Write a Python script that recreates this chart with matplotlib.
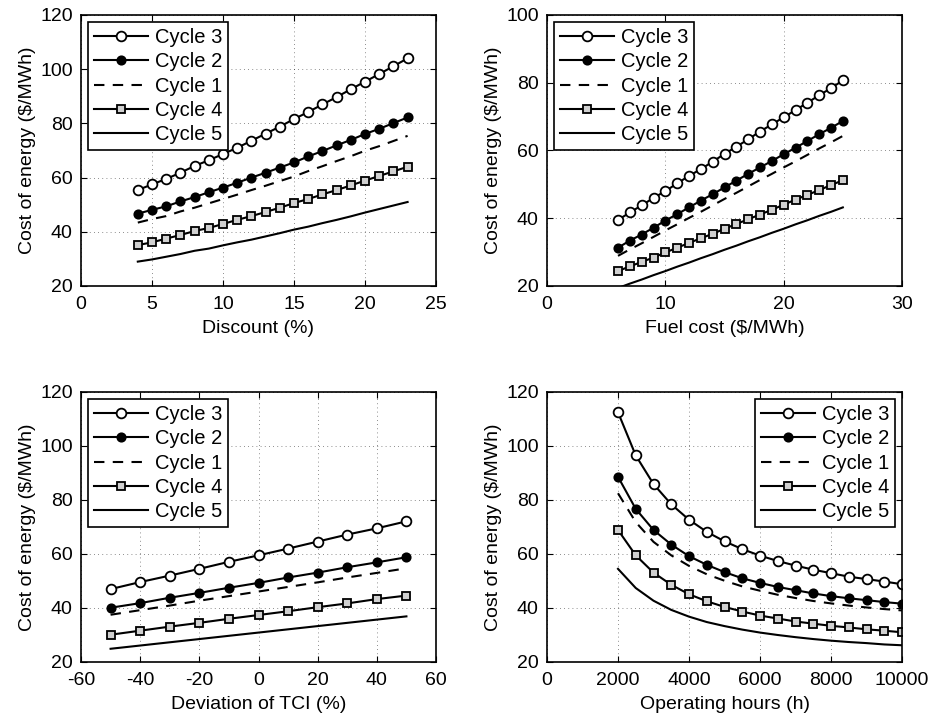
import numpy as np
import matplotlib
matplotlib.use("Agg")
import matplotlib.pyplot as plt

plt.rcParams['font.family'] = ['Liberation Sans', 'DejaVu Sans']
plt.rcParams['font.size'] = 14
plt.rcParams['axes.unicode_minus'] = False

# discount (%)
disc = [4, 5, 6, 7, 8, 9, 10, 11, 12, 13, 14, 15, 16, 17, 18, 19, 20, 21, 22, 23]
disc_c3 = [55.4, 57.5, 59.5, 61.8, 64.3, 66.4, 68.7, 71.0, 73.6, 76.2, 78.8, 81.6, 84.2, 87.0, 89.7, 92.6, 95.4, 98.2, 101.1, 104.0]
disc_c2 = [46.7, 48.1, 49.4, 51.2, 52.8, 54.6, 56.3, 58.1, 60.0, 61.8, 63.7, 65.6, 67.8, 69.8, 71.9, 73.9, 76.1, 78.0, 80.1, 82.2]
disc_c1 = [43.4, 44.7, 45.8, 47.5, 48.9, 50.5, 52.1, 53.7, 55.4, 57.0, 58.7, 60.4, 62.4, 64.2, 66.1, 67.9, 69.9, 71.6, 73.5, 75.4]
disc_c4 = [35.1, 36.1, 37.5, 38.8, 40.3, 41.4, 42.9, 44.4, 45.8, 47.3, 48.9, 50.6, 52.1, 53.8, 55.4, 57.1, 58.9, 60.6, 62.3, 64.0]
disc_c5 = [29.0, 29.8, 30.8, 31.8, 33.0, 33.8, 35.0, 36.1, 37.1, 38.3, 39.5, 40.8, 41.9, 43.2, 44.4, 45.7, 47.1, 48.4, 49.7, 51.0]

# fuel cost ($/MWh)
fuel = [6, 7, 8, 9, 10, 11, 12, 13, 14, 15, 16, 17, 18, 19, 20, 21, 22, 23, 24, 25]
fuel_c3 = [39.5, 41.7, 43.8, 46.0, 48.0, 50.3, 52.5, 54.5, 56.7, 59.0, 61.1, 63.3, 65.6, 67.7, 69.8, 71.9, 74.1, 76.3, 78.4, 80.7]
fuel_c2 = [31.3, 33.4, 35.2, 37.2, 39.3, 41.2, 43.2, 45.2, 47.1, 49.1, 51.1, 53.1, 55.0, 56.9, 58.9, 60.8, 62.8, 64.8, 66.7, 68.7]
fuel_c1 = [28.9, 30.8, 32.6, 34.5, 36.4, 38.2, 40.1, 41.9, 43.8, 45.7, 47.5, 49.4, 51.3, 53.1, 55.0, 56.8, 58.7, 60.6, 62.4, 64.3]
fuel_c4 = [24.4, 25.8, 27.1, 28.4, 29.9, 31.3, 32.7, 34.1, 35.4, 36.9, 38.3, 39.7, 41.1, 42.5, 44.0, 45.5, 46.9, 48.3, 49.8, 51.2]
fuel_c5 = [19.4, 20.7, 21.9, 23.2, 24.4, 25.7, 26.9, 28.2, 29.4, 30.7, 31.9, 33.2, 34.4, 35.7, 36.9, 38.2, 39.4, 40.7, 41.9, 43.2]

# deviation of TCI (%)
tci = [-50, -40, -30, -20, -10, 0, 10, 20, 30, 40, 50]
tci_c3 = [47.0, 49.6, 52.0, 54.5, 57.1, 59.5, 62.0, 64.6, 67.2, 69.5, 72.1]
tci_c2 = [40.1, 41.8, 43.8, 45.6, 47.5, 49.3, 51.3, 53.1, 55.1, 56.9, 58.8]
tci_c1 = [37.5, 39.2, 40.9, 42.7, 44.4, 46.1, 47.8, 49.5, 51.3, 53.0, 54.7]
tci_c4 = [30.1, 31.6, 33.1, 34.5, 36.0, 37.4, 38.8, 40.3, 41.7, 43.3, 44.6]
tci_c5 = [24.9, 26.1, 27.3, 28.5, 29.7, 30.9, 32.1, 33.3, 34.5, 35.7, 36.9]

# operating hours (h)
hours = [2000, 2500, 3000, 3500, 4000, 4500, 5000, 5500, 6000, 6500, 7000, 7500, 8000, 8500, 9000, 9500, 10000]
hours_c3 = [112.5, 96.5, 85.9, 78.4, 72.7, 68.2, 64.7, 61.8, 59.4, 57.4, 55.7, 54.2, 52.9, 51.6, 50.7, 49.8, 48.8]
hours_c2 = [88.6, 76.7, 68.9, 63.5, 59.2, 56.0, 53.3, 51.0, 49.3, 47.8, 46.6, 45.4, 44.4, 43.6, 42.9, 42.2, 41.6]
hours_c1 = [82.5, 71.8, 64.5, 59.5, 55.6, 52.5, 50.1, 48.0, 46.4, 44.9, 43.7, 42.6, 41.7, 40.9, 40.2, 39.6, 39.1]
hours_c4 = [68.9, 59.5, 53.1, 48.6, 45.1, 42.5, 40.4, 38.7, 37.2, 36.1, 35.0, 34.2, 33.4, 32.8, 32.1, 31.6, 31.0]
hours_c5 = [54.5, 47.4, 42.7, 39.3, 36.8, 34.8, 33.3, 32.0, 30.9, 30.0, 29.2, 28.5, 27.9, 27.4, 27.0, 26.5, 26.2]

panels = [
    (disc, [disc_c3, disc_c2, disc_c1, disc_c4, disc_c5], 'Discount (%)', (0, 25), np.arange(0, 26, 5), (20, 120), 'upper left'),
    (fuel, [fuel_c3, fuel_c2, fuel_c1, fuel_c4, fuel_c5], 'Fuel cost ($/MWh)', (0, 30), np.arange(0, 31, 10), (20, 100), 'upper left'),
    (tci, [tci_c3, tci_c2, tci_c1, tci_c4, tci_c5], 'Deviation of TCI (%)', (-60, 60), np.arange(-60, 61, 20), (20, 120), 'upper left'),
    (hours, [hours_c3, hours_c2, hours_c1, hours_c4, hours_c5], 'Operating hours (h)', (0, 10000), np.arange(0, 10001, 2000), (20, 120), 'upper right'),
]

labels = ['Cycle 3', 'Cycle 2', 'Cycle 1', 'Cycle 4', 'Cycle 5']
styles = [
    dict(ls='-', marker='o', mfc='white', mec='black', ms=7),
    dict(ls='-', marker='o', mfc='black', mec='black', ms=6),
    dict(ls=(0, (5, 4)), marker=None),
    dict(ls='-', marker='s', mfc='#d0d0d0', mec='black', ms=6),
    dict(ls='-', marker=None),
]

pos = [
    [81/932, 1-286/718, 355/932, 271/718],
    [547/932, 1-286/718, 355/932, 271/718],
    [81/932, 1-662/718, 355/932, 270/718],
    [547/932, 1-662/718, 355/932, 270/718],
]

fig = plt.figure(figsize=(9.32, 7.18), dpi=100)
for p, (x, ys, xlab, xlim, xt, ylim, loc) in zip(pos, panels):
    ax = fig.add_axes(p)
    for y, lab, st in zip(ys, labels, styles):
        ax.plot(x, y, color='black', lw=1.5, mew=1.3, label=lab, **st)
    ax.set_xlim(xlim)
    ax.set_ylim(ylim)
    ax.set_xticks(xt)
    ax.set_yticks(np.arange(ylim[0], ylim[1] + 1, 20))
    ax.grid(True, ls=(0, (1, 4)), color='black', lw=0.6, alpha=0.6)
    ax.tick_params(direction='in', top=True, right=True, length=4, labelsize=14)
    ax.tick_params(axis='x', pad=7)
    ax.tick_params(axis='y', pad=6)
    for s in ax.spines.values():
        s.set_linewidth(1.2)
    ax.set_xlabel(xlab, fontsize=14, labelpad=5)
    ax.set_ylabel('Cost of energy ($/MWh)', fontsize=14, labelpad=3)
    leg = ax.legend(loc=loc, fancybox=False, framealpha=1, edgecolor='black',
                    handlelength=2.7, handletextpad=0.3, borderaxespad=0.35,
                    labelspacing=0.26, borderpad=0.3, fontsize=14.5)
    leg.get_frame().set_linewidth(1.2)

fig.savefig('out.png', dpi=100)
